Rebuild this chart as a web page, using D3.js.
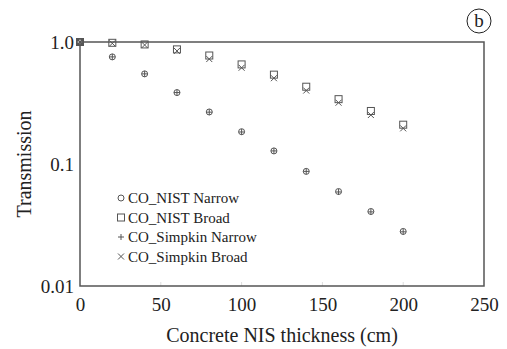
<!DOCTYPE html>
<html>
<head>
<meta charset="utf-8">
<script src="https://cdn.jsdelivr.net/npm/d3@7"></script>
<style>
  body { margin: 0; background: #fff; }
  svg { display: block; }
  text { font-family: "Liberation Serif", "Times New Roman", serif; fill: #222; }
</style>
</head>
<body>
<svg id="chart" width="507" height="349"></svg>
<script>
// Concrete shield thickness (cm)
const thickness = [0, 20, 40, 60, 80, 100, 120, 140, 160, 180, 200];
// Transmission per series
const nistNarrow    = [1.0, 0.755, 0.548, 0.385, 0.267, 0.184, 0.128, 0.087, 0.0595, 0.0408, 0.028];
const nistBroad     = [1.0, 0.985, 0.955, 0.87, 0.775, 0.655, 0.54, 0.43, 0.34, 0.272, 0.21];
const simpkinNarrow = [1.0, 0.755, 0.548, 0.385, 0.266, 0.183, 0.128, 0.087, 0.059, 0.0405, 0.0278];
const simpkinBroad  = [1.0, 0.975, 0.945, 0.845, 0.725, 0.615, 0.505, 0.40, 0.318, 0.252, 0.196];
const xTicks = [0, 50, 100, 150, 200, 250];
const yTicks = [1, 0.1, 0.01];
const yTickLabels = ["1.0", "0.1", "0.01"];
const seriesNames = ["CO_NIST Narrow", "CO_NIST Broad", "CO_Simpkin Narrow", "CO_Simpkin Broad"];

const svg = d3.select("#chart");
const m = { left: 80, right: 23, top: 42, bottom: 63 };
const W = 507, H = 349;

const x = d3.scaleLinear().domain([0, 250]).range([m.left, W - m.right]);
const y = d3.scaleLog().domain([0.01, 1]).range([H - m.bottom, m.top]);

const axisColor = "#555";

// faint tick marks inside the frame
svg.append("g").selectAll("line").data(xTicks.slice(1, -1)).join("line")
  .attr("x1", d => x(d)).attr("x2", d => x(d))
  .attr("y1", y(0.01)).attr("y2", y(0.01) - 4)
  .attr("stroke", "#ddd").attr("stroke-width", 1);

// frame
svg.append("rect")
  .attr("x", x(0)).attr("y", y(1))
  .attr("width", x(250) - x(0)).attr("height", y(0.01) - y(1))
  .attr("fill", "none").attr("stroke", axisColor).attr("stroke-width", 1.5);

// x axis labels
const xAxis = d3.axisBottom(x).tickValues(xTicks).tickSize(0).tickPadding(12).tickFormat(d3.format("d"));
const gx = svg.append("g").attr("transform", `translate(0,${y(0.01)})`).call(xAxis);
gx.select(".domain").remove();
gx.selectAll("text").attr("font-size", 19).attr("fill", "#222")
  .attr("font-family", "Liberation Serif, serif");

// y axis labels
const yAxis = d3.axisLeft(y).tickValues(yTicks).tickSize(0).tickPadding(6)
  .tickFormat((d, i) => yTickLabels[i]);
const gy = svg.append("g").attr("transform", `translate(${x(0)},0)`).call(yAxis);
gy.select(".domain").remove();
gy.selectAll("text").attr("font-size", 19).attr("fill", "#222")
  .attr("font-family", "Liberation Serif, serif");

// axis titles
svg.append("text")
  .attr("x", (x(0) + x(250)) / 2).attr("y", 342)
  .attr("text-anchor", "middle").attr("font-size", 20)
  .text("Concrete NIS thickness (cm)");
svg.append("text")
  .attr("transform", `translate(31,${(y(1) + y(0.01)) / 2}) rotate(-90)`)
  .attr("text-anchor", "middle").attr("font-size", 20)
  .text("Transmission");

// panel label
svg.append("circle").attr("cx", 479).attr("cy", 21).attr("r", 12)
  .attr("fill", "none").attr("stroke", "#222").attr("stroke-width", 1);
svg.append("text").attr("x", 479).attr("y", 27).attr("text-anchor", "middle")
  .attr("font-size", 19).text("b");

const mk = "#555";
// marker drawers
const drawers = [
  (g) => g.append("circle").attr("r", 3).attr("fill", "none").attr("stroke", mk).attr("stroke-width", 1),
  (g) => g.append("rect").attr("x", -3.5).attr("y", -3.5).attr("width", 7).attr("height", 7)
          .attr("fill", "none").attr("stroke", mk).attr("stroke-width", 1),
  (g) => g.append("path").attr("d", "M-3,0H3M0,-3V3").attr("stroke", mk).attr("stroke-width", 1),
  (g) => g.append("path").attr("d", "M-3,-3L3,3M-3,3L3,-3").attr("stroke", mk).attr("stroke-width", 1)
];
const series = [nistNarrow, nistBroad, simpkinNarrow, simpkinBroad];

series.forEach((vals, si) => {
  const g = svg.append("g");
  thickness.forEach((t, i) => {
    const p = g.append("g").attr("transform", `translate(${x(t)},${y(vals[i])})`);
    drawers[si](p);
  });
});

// legend
seriesNames.forEach((name, i) => {
  const ly = 198 + i * 19.5;
  const p = svg.append("g").attr("transform", `translate(121,${ly})`);
  drawers[i](p);
  svg.append("text").attr("x", 128).attr("y", ly + 5).attr("font-size", 15).text(name);
});
</script>
</body>
</html>
